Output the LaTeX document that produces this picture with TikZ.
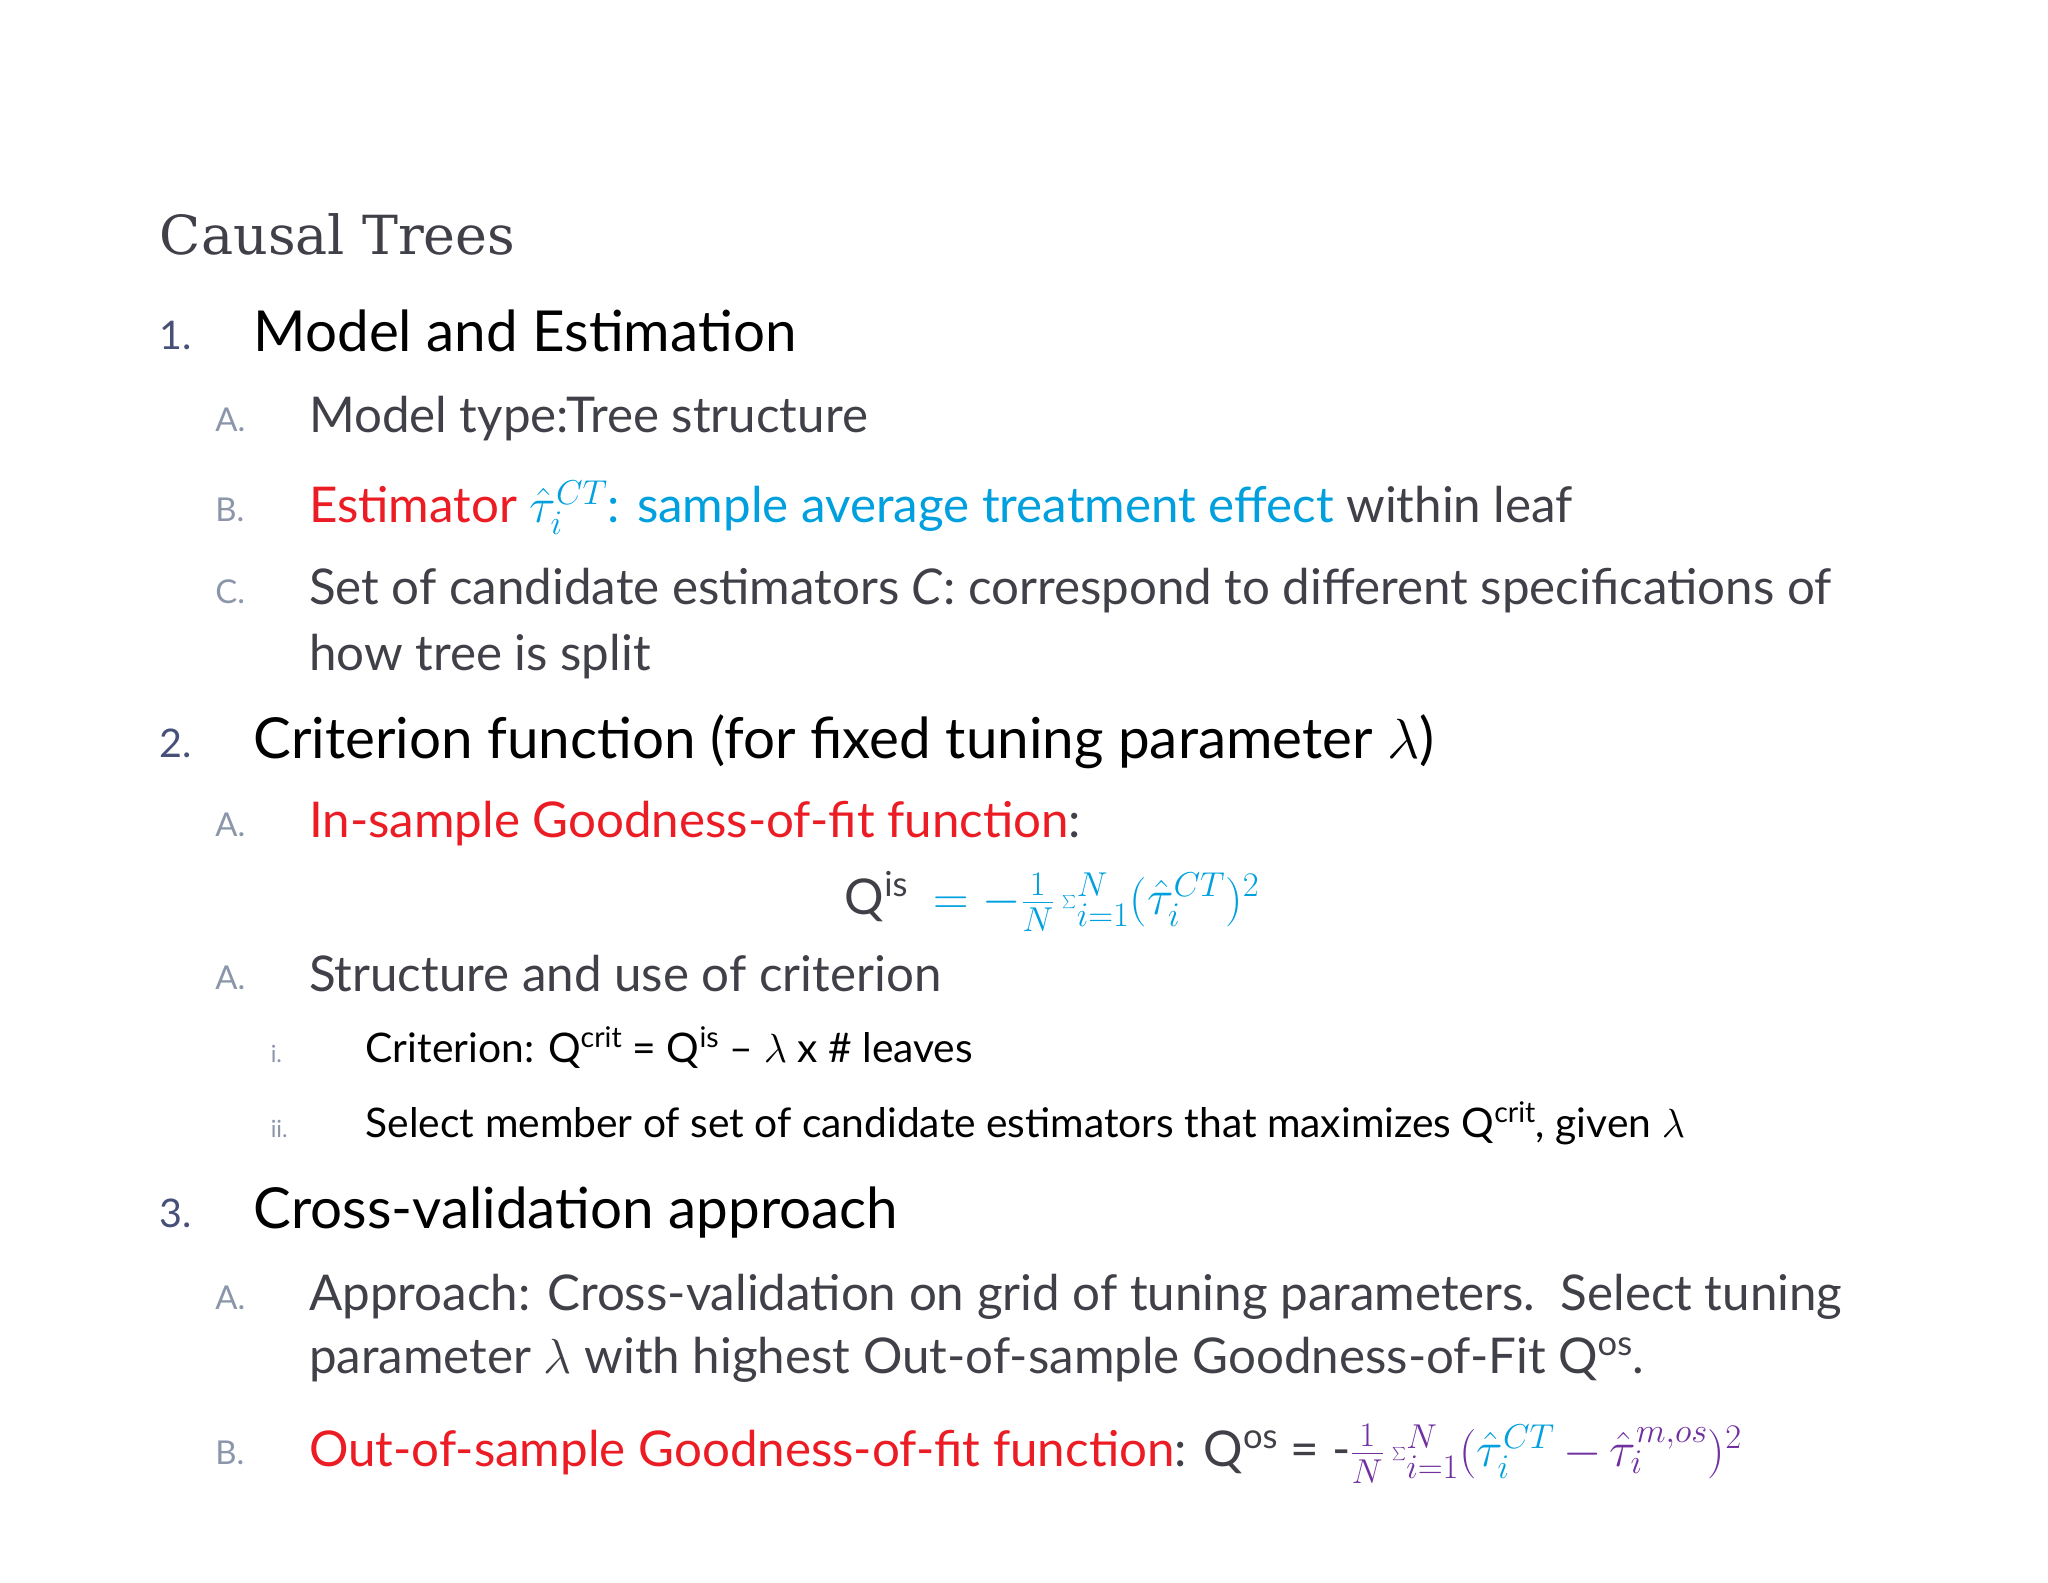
\RequirePackage{fix-cm}
\documentclass[tikz,border=0pt]{standalone}
\usepackage{fontspec}
\setmainfont{Lato}
\newfontfamily\titlefont{DejaVu Serif}
\definecolor{tgray}{RGB}{64,64,72}
\definecolor{lgray}{RGB}{140,150,170}
\definecolor{nblue}{RGB}{70,80,120}
\definecolor{rd}{RGB}{235,28,36}
\definecolor{cy}{RGB}{0,160,222}
\definecolor{pu}{RGB}{112,48,160}
\begin{document}
\begin{tikzpicture}[x=1bp,y=-1bp,
  t/.style={anchor=base west,inner sep=0pt},
  h/.style={t,font=\fontsize{43}{50}\selectfont,text=black},
  hn/.style={t,font=\fontsize{30}{36}\selectfont,text=nblue},
  b/.style={t,font=\fontsize{37.5}{44}\selectfont,text=tgray},
  bl/.style={t,font=\fontsize{25}{30}\selectfont,text=lgray},
  s/.style={t,font=\fontsize{31}{36}\selectfont,text=black},
  sl/.style={t,font=\fontsize{18}{22}\selectfont,text=lgray}]
\useasboundingbox (0,0) rectangle (1552,1199);
\node[t,font=\titlefont\fontsize{41}{50}\selectfont,text=tgray] (title) at (121,193) {Causal Trees};
\node[hn] (n1) at (121,265) {1.};
\node[h] (h1) at (192,266) {Model and Estimation};
\node[bl] (a1) at (163,327) {A.};
\node[b] (t1a) at (234,328) {Model type:Tree structure};
\node[bl] (b1) at (163,395) {B.};
\node[b] (t1b) at (234,396) {\textcolor{rd}{Estimator} \textcolor{cy}{$\hat\tau_i^{CT}$: sample average treatment effect} within leaf};
\node[bl] (c1) at (163,457) {C.};
\node[b] (t1c) at (234,458) {Set of candidate estimators \textit{C}: correspond to different specifications of};
\node[b] (t1c2) at (234,508) {how tree is split};
\node[hn] (n2) at (121,574) {2.};
\node[h] (h2) at (192,575) {Criterion function (for fixed tuning parameter $\lambda$)};
\node[bl] (a2) at (163,634) {A.};
\node[b] (t2a) at (234,635) {\textcolor{rd}{In-sample Goodness-of-fit function}:};
\node[b] (f2) at (640,693) {Q\textsuperscript{is} \ \textcolor{cy}{$=-\frac{1}{N}\sum_{i=1}^{N}(\hat\tau_i^{CT})^2$}};
\node[bl] (a2b) at (163,750) {A.};
\node[b] (t2b) at (234,751) {Structure and use of criterion};
\node[sl] (i2) at (205,805) {i.};
\node[s] (t2i) at (277,805) {Criterion: Q\textsuperscript{crit} = Q\textsuperscript{is} -- $\lambda$ x \# leaves};
\node[sl] (ii2) at (205,862) {ii.};
\node[s] (t2ii) at (277,862) {Select member of set of candidate estimators that maximizes Q\textsuperscript{crit}, given $\lambda$};
\node[hn] (n3) at (121,930) {3.};
\node[h] (h3) at (192,931) {Cross-validation approach};
\node[bl] (a3) at (163,992) {A.};
\node[b] (t3a) at (234,993) {Approach: Cross-validation on grid of tuning parameters.\ \ Select tuning};
\node[b] (t3a2) at (234,1041) {parameter $\lambda$ with highest Out-of-sample Goodness-of-Fit Q\textsuperscript{os}.};
\node[bl] (b3) at (163,1110) {B.};
\node[b] (t3b) at (234,1111) {\textcolor{rd}{Out-of-sample Goodness-of-fit function}: Q\textsuperscript{os} = -\textcolor{pu}{$\frac{1}{N}\sum_{i=1}^{N}($}\textcolor{cy}{$\hat\tau_i^{CT}$}\textcolor{pu}{$\,-\,\hat\tau_i^{m,os})^2$}};
\end{tikzpicture}
\end{document}
